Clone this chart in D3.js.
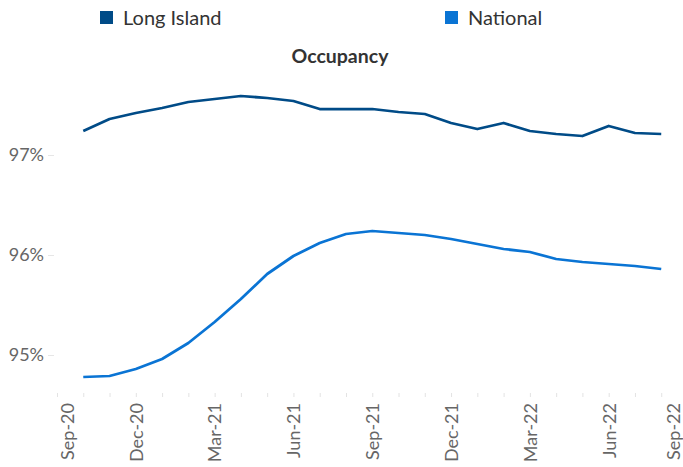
<!DOCTYPE html>
<html>
<head>
<meta charset="utf-8">
<script src="https://cdn.jsdelivr.net/npm/d3@7"></script>
<style>
  body { margin: 0; background: #fff; }
  svg { display: block; font-family: Lato, "Open Sans", sans-serif; }
</style>
</head>
<body>
<div id="chart"></div>
<script>
// axis months, Sep-20 .. Sep-22
var months = ["Sep-20","Oct-20","Nov-20","Dec-20","Jan-21","Feb-21","Mar-21","Apr-21","May-21","Jun-21",
  "Jul-21","Aug-21","Sep-21","Oct-21","Nov-21","Dec-21","Jan-22","Feb-22","Mar-22","Apr-22","May-22",
  "Jun-22","Jul-22","Aug-22","Sep-22"];

// data months (Oct-20 .. Aug-22)
var dataMonths = months.slice(1, 24);

var longIsland = [97.24, 97.36, 97.42, 97.47, 97.53, 97.56, 97.59, 97.57, 97.54, 97.46, 97.46, 97.46,
  97.43, 97.41, 97.32, 97.26, 97.32, 97.24, 97.21, 97.19, 97.29, 97.22, 97.21];
var national = [94.78, 94.79, 94.86, 94.96, 95.12, 95.33, 95.56, 95.81, 95.99, 96.12, 96.21, 96.24,
  96.22, 96.20, 96.16, 96.11, 96.06, 96.03, 95.96, 95.93, 95.91, 95.89, 95.86];

var seriesNames = ["Long Island", "National"];
var seriesColors = ["#004B87", "#0A74D4"];
var yTicks = [95, 96, 97];

var W = 683, H = 467;

var svg = d3.select("#chart").append("svg")
    .attr("width", W)
    .attr("height", H);

var x = d3.scalePoint()
    .domain(months)
    .range([57, 687.5]);

var y = d3.scaleLinear()
    .domain([94.62, 97.8])
    .range([393, 75]);

// legend
var legend = svg.append("g").selectAll("g")
    .data(seriesNames)
    .enter().append("g")
    .attr("transform", function(d, i) { return "translate(" + [100, 445][i] + ",11)"; });

legend.append("rect")
    .attr("width", 13)
    .attr("height", 13)
    .attr("fill", function(d, i) { return seriesColors[i]; });

legend.append("text")
    .attr("x", 23)
    .attr("y", 14)
    .attr("font-size", 20)
    .attr("fill", "#333")
    .text(function(d) { return d; });

// title
svg.append("text")
    .attr("x", 340)
    .attr("y", 63)
    .attr("text-anchor", "middle")
    .attr("font-size", 19.5)
    .attr("font-weight", "bold")
    .attr("fill", "#333")
    .text("Occupancy");

// y axis
var yAxis = svg.append("g")
    .attr("transform", "translate(54,0)")
    .call(d3.axisLeft(y).tickValues(yTicks).tickSize(6).tickPadding(4)
        .tickFormat(function(d) { return d + "%"; }));
yAxis.select(".domain").remove();
yAxis.selectAll("line").attr("stroke", "#e6e6e6");
yAxis.selectAll("text")
    .attr("font-size", 18)
    .attr("font-family", "Lato, sans-serif")
    .attr("fill", "#666");

// x axis
var xAxis = svg.append("g")
    .attr("transform", "translate(0,393)")
    .call(d3.axisBottom(x).tickSize(4)
        .tickFormat(function(d, i) { return i % 3 == 0 ? d : ""; }));
xAxis.select(".domain").remove();
xAxis.selectAll("line").attr("stroke", "#e3e3e3");
xAxis.selectAll("text")
    .attr("font-size", 18)
    .attr("font-family", "Lato, sans-serif")
    .attr("fill", "#666")
    .attr("text-anchor", "end")
    .attr("transform", "rotate(-90)")
    .attr("x", -10)
    .attr("y", function(d) {
        // keep edge labels inside the picture
        var px = x(d);
        var shift = 0;
        if (px < 67) shift = 67 - px;
        if (px > 673) shift = 673 - px;
        return shift;
    })
    .attr("dy", "0.35em");

// lines
var line = d3.line()
    .x(function(d, i) { return x(dataMonths[i]); })
    .y(function(d) { return y(d); });

svg.append("g").selectAll("path")
    .data([longIsland, national])
    .enter().append("path")
    .attr("d", line)
    .attr("fill", "none")
    .attr("stroke", function(d, i) { return seriesColors[i]; })
    .attr("stroke-width", 2.75)
    .attr("stroke-linejoin", "round");
</script>
</body>
</html>
